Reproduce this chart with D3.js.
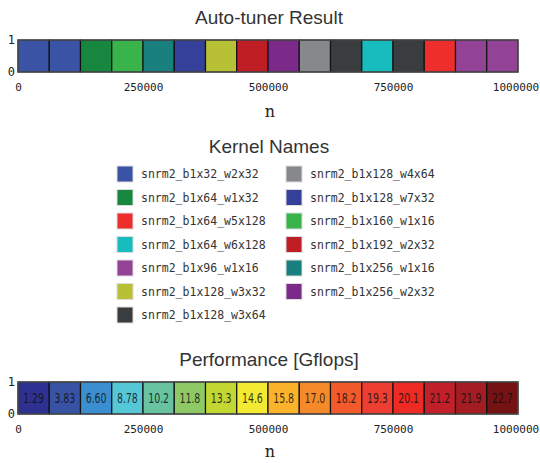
<!DOCTYPE html>
<html>
<head>
<meta charset="utf-8">
<script src="https://cdn.jsdelivr.net/npm/d3@7"></script>
<style>
  body { margin: 0; background: #fff; }
  svg { display: block; }
</style>
</head>
<body>
<script>
// kernel chosen per n bucket (16 buckets of 62500)
const kernelNames = [
    'snrm2_b1x32_w2x32', 'snrm2_b1x64_w1x32', 'snrm2_b1x64_w5x128', 'snrm2_b1x64_w6x128',
    'snrm2_b1x96_w1x16', 'snrm2_b1x128_w3x32', 'snrm2_b1x128_w3x64', 'snrm2_b1x128_w4x64',
    'snrm2_b1x128_w7x32', 'snrm2_b1x160_w1x16', 'snrm2_b1x192_w2x32', 'snrm2_b1x256_w1x16',
    'snrm2_b1x256_w2x32'
];
const kernelColors = [
    '#3a53a4', '#17873f', '#ee2e2a', '#17bcbf',
    '#924396', '#b8c036', '#3a3d40', '#87888b',
    '#35409a', '#38b44a', '#bf1e24', '#1a7f7f',
    '#7b2a8a'
];
const bucketStarts = [0, 62500, 125000, 187500, 250000, 312500, 375000, 437500,
    500000, 562500, 625000, 687500, 750000, 812500, 875000, 937500];
const bucketKernels = [
    'snrm2_b1x32_w2x32', 'snrm2_b1x32_w2x32', 'snrm2_b1x64_w1x32', 'snrm2_b1x160_w1x16',
    'snrm2_b1x256_w1x16', 'snrm2_b1x128_w7x32', 'snrm2_b1x128_w3x32', 'snrm2_b1x192_w2x32',
    'snrm2_b1x256_w2x32', 'snrm2_b1x128_w4x64', 'snrm2_b1x128_w3x64', 'snrm2_b1x64_w6x128',
    'snrm2_b1x128_w3x64', 'snrm2_b1x64_w5x128', 'snrm2_b1x96_w1x16', 'snrm2_b1x96_w1x16'
];
const bucketGflops = ['1.29', '3.83', '6.60', '8.78', '10.2', '11.8', '13.3', '14.6',
    '15.8', '17.0', '18.2', '19.3', '20.1', '21.2', '21.9', '22.7'];
const perfColors = ['#2e3192', '#3953a4', '#3b8ecf', '#56c7d6', '#67c3a0', '#8ec965', '#c3d732', '#f3eb31',
    '#fbb32b', '#f58a2a', '#f15a2b', '#ee3d31', '#ee2a24', '#c1202a', '#a31d22', '#741214'];
const xTicks = [0, 250000, 500000, 750000, 1000000];
const bucketSize = 62500;

const width = 540;
const height = 463;

const svg = d3.select('body')
    .append('svg')
    .attr('width', width)
    .attr('height', height);

const x = d3.scaleLinear()
    .domain([0, 1000000])
    .range([18, 518]);

const kernelColor = d3.scaleOrdinal()
    .domain(kernelNames)
    .range(kernelColors);

const barStrip = (g, settings) => {
    const y = d3.scaleLinear().domain([0, 1]).range([settings.bottom, settings.top]);

    g.append('text')
        .attr('x', 269)
        .attr('y', settings.titleY)
        .attr('text-anchor', 'middle')
        .attr('font-family', 'Liberation Sans, Arial, sans-serif')
        .attr('font-size', 19)
        .attr('fill', '#333')
        .text(settings.title);

    const cells = g.selectAll('g.cell')
        .data(bucketStarts.map((d, i) => ({ start: d, i })))
        .join('g')
        .attr('class', 'cell');

    cells.append('rect')
        .attr('x', d => x(d.start))
        .attr('y', y(1))
        .attr('width', d => x(d.start + bucketSize) - x(d.start))
        .attr('height', y(0) - y(1))
        .attr('fill', settings.fill)
        .attr('stroke', '#111')
        .attr('stroke-width', 1.2);

    if (settings.label) {
        cells.append('text')
            .attr('x', d => (x(d.start) + x(d.start + bucketSize)) / 2)
            .attr('y', (y(0) + y(1)) / 2)
            .attr('dy', '0.36em')
            .attr('text-anchor', 'middle')
            .attr('font-family', 'DejaVu Sans, sans-serif')
            .attr('font-size', 14)
            .attr('textLength', 21)
            .attr('lengthAdjust', 'spacingAndGlyphs')
            .attr('fill', '#111')
            .attr('fill-opacity', 0.85)
            .text(settings.label);
    }

    g.append('rect')
        .attr('x', x(0))
        .attr('y', y(1))
        .attr('width', x(1000000) - x(0))
        .attr('height', y(0) - y(1))
        .attr('fill', 'none')
        .attr('stroke', '#555')
        .attr('stroke-width', 1.2);

    const xAxis = g.append('g')
        .attr('transform', `translate(0,${y(0)})`)
        .call(d3.axisBottom(x).tickValues(xTicks).tickFormat(d3.format('d')).tickSize(0).tickPadding(11));
    xAxis.select('.domain').remove();
    xAxis.selectAll('text')
        .attr('font-family', 'DejaVu Sans Mono, monospace')
        .attr('font-size', 11)
        .attr('fill', '#222')
        .attr('dx', d => d === 1000000 ? -2.5 : 0);

    const yAxis = g.append('g')
        .attr('transform', `translate(${x(0)},0)`)
        .call(d3.axisLeft(y).tickValues([0, 1]).tickFormat(d3.format('d')).tickSize(0).tickPadding(3));
    yAxis.select('.domain').remove();
    yAxis.selectAll('text')
        .attr('font-family', 'DejaVu Sans Mono, monospace')
        .attr('font-size', 12)
        .attr('fill', '#222');

    g.append('text')
        .attr('x', 270)
        .attr('y', settings.nameY)
        .attr('text-anchor', 'middle')
        .attr('font-family', 'DejaVu Serif, serif')
        .attr('font-size', 16)
        .attr('fill', '#222')
        .text('n');
};

barStrip(svg.append('g'), {
    title: 'Auto-tuner Result',
    titleY: 24,
    top: 40,
    bottom: 72,
    nameY: 117,
    fill: d => kernelColor(bucketKernels[d.i])
});

// legend
const legend = svg.append('g');
legend.append('text')
    .attr('x', 269)
    .attr('y', 153)
    .attr('text-anchor', 'middle')
    .attr('font-family', 'Liberation Sans, Arial, sans-serif')
    .attr('font-size', 19)
    .attr('fill', '#333')
    .text('Kernel Names');

const rowsPerCol = 7;
const items = legend.selectAll('g.item')
    .data(kernelNames)
    .join('g')
    .attr('class', 'item')
    .attr('transform', (d, i) => `translate(${i < rowsPerCol ? 117 : 286},${166 + (i % rowsPerCol) * 23.5})`);

items.append('rect')
    .attr('width', 16)
    .attr('height', 16)
    .attr('fill', d => kernelColor(d))
    .attr('stroke', '#ddd')
    .attr('stroke-width', 1);

items.append('text')
    .attr('x', 24)
    .attr('y', 8)
    .attr('dy', '0.35em')
    .attr('font-family', 'DejaVu Sans Mono, monospace')
    .attr('font-size', 11.5)
    .attr('fill', '#333')
    .text(d => d);

barStrip(svg.append('g'), {
    title: 'Performance [Gflops]',
    titleY: 366,
    top: 382,
    bottom: 414,
    nameY: 457,
    fill: d => perfColors[d.i],
    label: d => bucketGflops[d.i]
});
</script>
</body>
</html>
